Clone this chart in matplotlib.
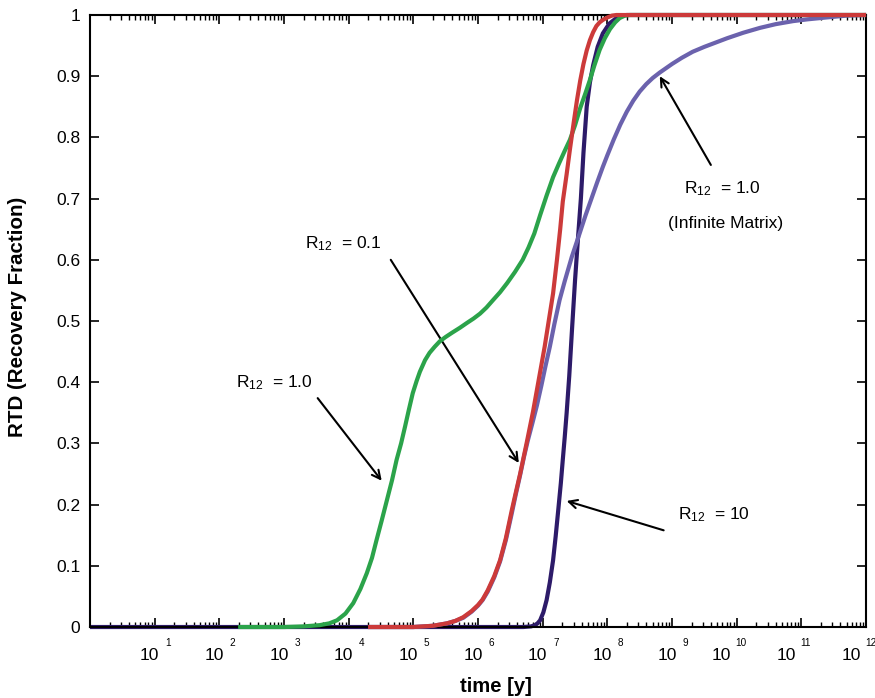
import numpy as np
import matplotlib
matplotlib.use("Agg")
import matplotlib.pyplot as plt
import matplotlib.transforms as mtransforms

plt.rcParams['font.family'] = ['Liberation Sans', 'DejaVu Sans']
plt.rcParams['mathtext.fontset'] = 'custom'
plt.rcParams['mathtext.rm'] = 'Liberation Sans'

# log10(time [y]) and RTD values
green_logt = [2.29, 3.0, 3.3, 3.55, 3.7, 3.82, 3.95, 4.07, 4.18, 4.28, 4.36, 4.43, 4.51, 4.59,
              4.67, 4.74, 4.81, 4.87, 4.93, 4.99, 5.05, 5.1, 5.18, 5.25, 5.33, 5.41, 5.5, 5.6,
              5.72, 5.83, 5.93, 6.03, 6.13, 6.23, 6.34, 6.45, 6.57, 6.69, 6.78, 6.87, 6.96,
              7.06, 7.16, 7.25, 7.34, 7.42, 7.5, 7.58, 7.66, 7.73, 7.8, 7.88, 7.96, 8.04, 8.12,
              8.19, 8.27, 8.35, 12.0]
green_rtd = [0, 0, 0.001, 0.003, 0.006, 0.011, 0.022, 0.039, 0.062, 0.088, 0.113, 0.142, 0.174,
             0.207, 0.24, 0.273, 0.3, 0.327, 0.355, 0.382, 0.402, 0.417, 0.436, 0.448, 0.458,
             0.467, 0.474, 0.481, 0.489, 0.497, 0.504, 0.512, 0.522, 0.534, 0.547, 0.562, 0.58,
             0.6, 0.62, 0.643, 0.673, 0.705, 0.735, 0.757, 0.778, 0.796, 0.82, 0.848, 0.872,
             0.894, 0.918, 0.943, 0.962, 0.977, 0.988, 0.995, 0.999, 1.0, 1.0]

red_logt = [4.3, 5.0, 5.3, 5.52, 5.65, 5.77, 5.9, 6.0, 6.07, 6.15, 6.25, 6.34, 6.43, 6.52, 6.58,
            6.65, 6.75, 6.85, 6.94, 7.03, 7.1, 7.16, 7.22, 7.27, 7.31, 7.37, 7.42, 7.48, 7.53,
            7.58, 7.63, 7.68, 7.73, 7.78, 7.83, 7.88, 7.93, 8.0, 8.07, 8.14, 12.0]
red_rtd = [0, 0, 0.002, 0.006, 0.01, 0.016, 0.026, 0.036, 0.045, 0.06, 0.083, 0.109, 0.145, 0.19,
           0.218, 0.25, 0.3, 0.352, 0.405, 0.458, 0.505, 0.545, 0.6, 0.65, 0.695, 0.74, 0.78,
           0.825, 0.861, 0.893, 0.92, 0.942, 0.959, 0.972, 0.982, 0.988, 0.992, 0.996, 0.999,
           1.0, 1.0]

inf_logt = [4.3, 5.0, 5.3, 5.52, 5.65, 5.77, 5.9, 6.0, 6.07, 6.15, 6.25, 6.34, 6.43, 6.52, 6.58,
            6.65, 6.71, 6.77, 6.84, 6.91, 6.98, 7.04, 7.11, 7.18, 7.26, 7.34, 7.45, 7.57, 7.66,
            7.75, 7.84, 7.93, 8.0, 8.1, 8.2, 8.3, 8.4, 8.5, 8.6, 8.7, 8.81, 9.0, 9.15, 9.32,
            9.5, 9.7, 9.85, 10.1, 10.36, 10.6, 10.87, 11.1, 11.39, 11.7, 12.0]
inf_rtd = [0, 0, 0.002, 0.006, 0.01, 0.015, 0.025, 0.035, 0.044, 0.058, 0.081, 0.107, 0.142,
           0.185, 0.215, 0.248, 0.278, 0.305, 0.333, 0.362, 0.395, 0.425, 0.458, 0.495, 0.534,
           0.565, 0.605, 0.643, 0.672, 0.699, 0.726, 0.752, 0.771, 0.797, 0.821, 0.842, 0.86,
           0.875, 0.887, 0.897, 0.906, 0.92, 0.93, 0.94, 0.948, 0.956, 0.962, 0.971, 0.979,
           0.985, 0.99, 0.993, 0.996, 0.999, 1.0]

dark_logt = [0.0, 6.7, 6.82, 6.88, 6.92, 6.96, 7.01, 7.06, 7.11, 7.16, 7.2, 7.24, 7.28, 7.31,
             7.34, 7.37, 7.41, 7.455, 7.5, 7.545, 7.59, 7.63, 7.68, 7.73, 7.78, 7.85, 7.93,
             8.03, 8.14, 8.22, 8.3, 12.0]
dark_rtd = [0, 0, 0.001, 0.003, 0.006, 0.011, 0.024, 0.044, 0.073, 0.109, 0.148, 0.191, 0.235,
            0.273, 0.31, 0.35, 0.41, 0.49, 0.567, 0.635, 0.7, 0.775, 0.85, 0.89, 0.918, 0.948,
            0.97, 0.986, 0.995, 0.999, 1.0, 1.0]

decades = list(range(1, 13))
yticks = [round(0.1 * i, 1) for i in range(11)]

fig = plt.figure(figsize=(8.75, 6.98), dpi=100)
ax = fig.add_axes([0.1029, 0.1017, 0.8869, 0.8768])

style = dict(lw=3, clip_on=False, solid_joinstyle='round', solid_capstyle='butt')
ax.plot(10 ** np.array(dark_logt), dark_rtd, color='#2d1b69', zorder=2, **style)
ax.plot(10 ** np.array(inf_logt), inf_rtd, color='#6b62ad', zorder=3, **style)
ax.plot(10 ** np.array(green_logt), green_rtd, color='#2ba34a', zorder=4, **style)
ax.plot(10 ** np.array(red_logt), red_rtd, color='#cc3a3a', zorder=5, **style)

ax.set_xscale('log')
ax.set_xlim(1, 1e12)
ax.set_ylim(0, 1)

for s in ax.spines.values():
    s.set_linewidth(1.5)

ax.set_yticks(yticks)
ax.set_yticklabels(['%g' % v for v in yticks], fontsize=12.5)
ax.set_xticks([10.0 ** d for d in decades])
ax.set_xticklabels([])
ax.xaxis.set_minor_locator(matplotlib.ticker.LogLocator(base=10, subs=np.arange(2, 10), numticks=100))
ax.xaxis.set_minor_formatter(matplotlib.ticker.NullFormatter())
ax.tick_params(axis='both', which='major', direction='in', length=6.5, width=1.2,
               top=True, right=True, pad=7)
ax.tick_params(axis='x', which='minor', direction='in', length=3.5, width=1, top=True)

# "10" with a raised exponent under each decade
tr = ax.get_xaxis_transform()
for d in decades:
    base_dx = 4.5 if d < 10 else -5.5
    exp_dx = base_dx + (6 if d < 10 else 4.5)
    base_tr = mtransforms.offset_copy(tr, fig=fig, x=base_dx, y=0, units='dots')
    exp_tr = mtransforms.offset_copy(tr, fig=fig, x=exp_dx, y=0, units='dots')
    ax.text(10.0 ** d, -0.0458, '10', transform=base_tr, ha='right', va='center',
            fontsize=12.5, clip_on=False)
    ax.text(10.0 ** d, -0.026, str(d), transform=exp_tr, ha='left', va='center',
            fontsize=7.2, clip_on=False)

fig.text(496 / 875, 1 - 686 / 698, 'time [y]', ha='center', va='center',
         fontsize=14.6, fontweight='bold')
fig.text(18 / 875, 1 - 317 / 698, 'RTD (Recovery Fraction)', ha='center', va='center',
         rotation=90, fontsize=14.8, fontweight='bold')

arrow = dict(arrowstyle='->,head_length=0.6,head_width=0.3', lw=1.5, color='black',
             shrinkA=0, shrinkB=0)
lab = r'$\mathregular{R_{12}}$  = '

ax.text(10 ** 2.26, 0.399, lab + '1.0', fontsize=12.5, ha='left', va='center')
ax.annotate('', xy=(10 ** 4.51, 0.239), xytext=(10 ** 3.52, 0.374), arrowprops=arrow)

ax.text(10 ** 3.32, 0.627, lab + '0.1', fontsize=12.5, ha='left', va='center')
ax.annotate('', xy=(10 ** 6.63, 0.268), xytext=(10 ** 4.65, 0.6), arrowprops=arrow)

ax.text(10 ** 9.78, 0.717, lab + '1.0', fontsize=12.5, ha='center', va='center')
ax.text(10 ** 9.83, 0.66, '(Infinite Matrix)', fontsize=12.5, ha='center', va='center')
ax.annotate('', xy=(10 ** 8.81, 0.9), xytext=(10 ** 9.6, 0.755), arrowprops=arrow)

ax.text(10 ** 9.09, 0.183, lab + '10', fontsize=12.5, ha='left', va='center')
ax.annotate('', xy=(10 ** 7.37, 0.206), xytext=(10 ** 8.87, 0.158), arrowprops=arrow)

fig.savefig('out.png', dpi=100)
